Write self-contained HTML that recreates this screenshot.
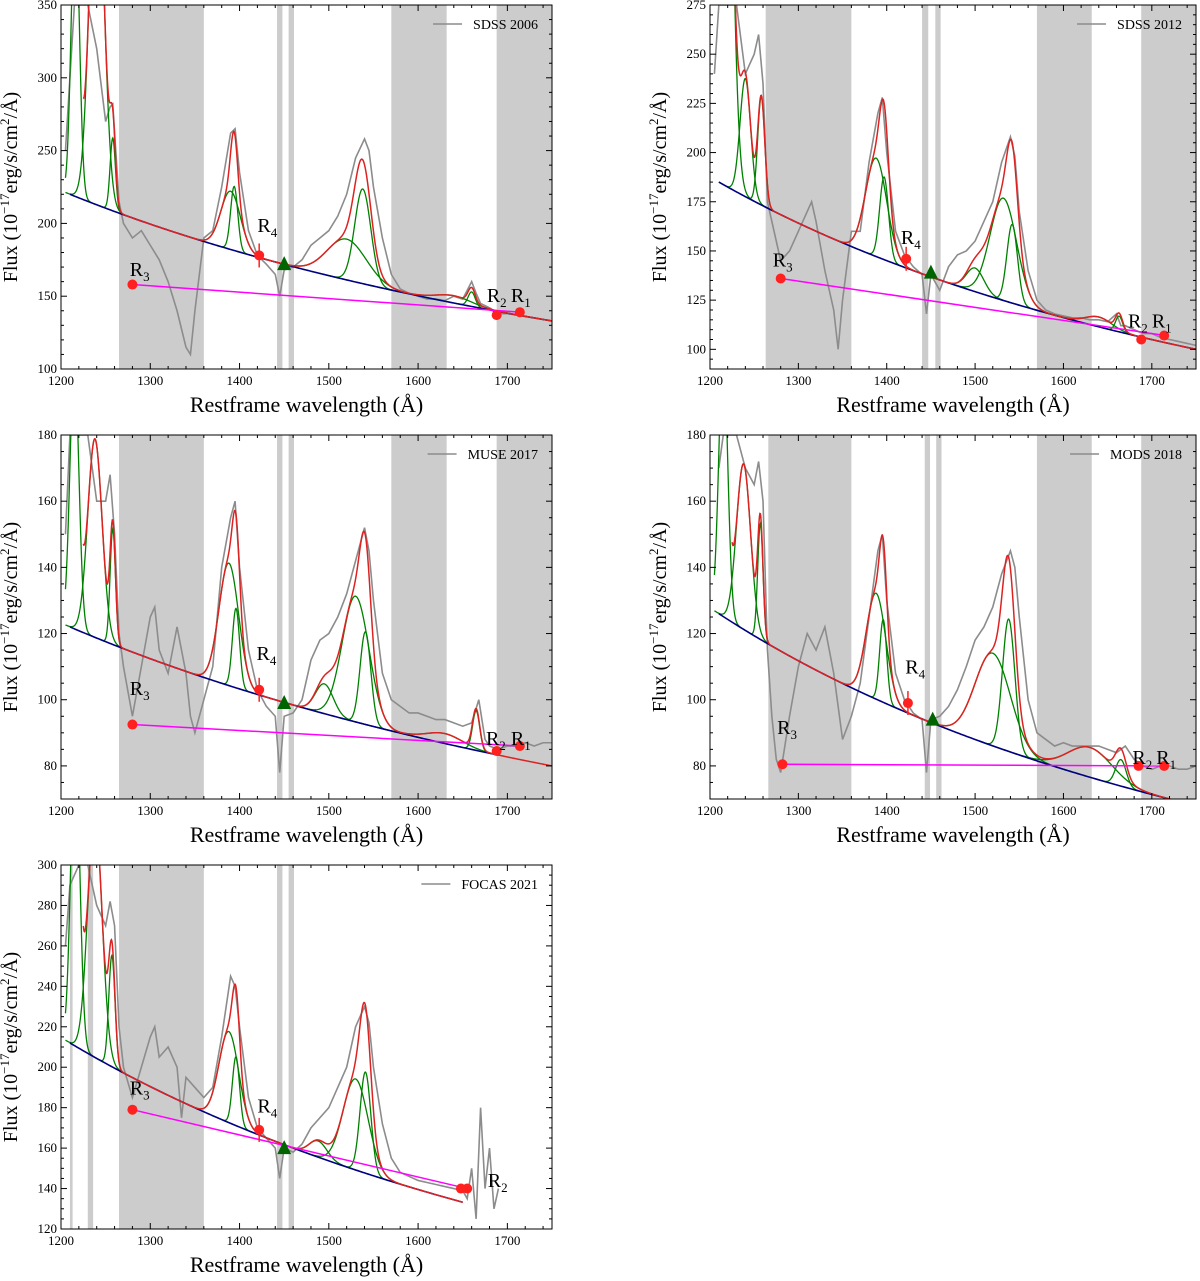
<!DOCTYPE html>
<html><head><meta charset="utf-8"><style>
html,body{margin:0;padding:0;background:#fff;}
svg{display:block;font-family:"Liberation Serif",serif;}
</style></head><body>
<svg id="fig" width="1200" height="1281" viewBox="0 0 1200 1281"></svg>
<script>
// ---- Panel data (small named arrays) ----
const p1Label="SDSS 2006", p2Label="SDSS 2012", p3Label="MUSE 2017", p4Label="MODS 2018", p5Label="FOCAS 2021";
const p1Wave=[1205,1210,1215,1220,1230,1240,1250,1255,1258,1265,1270,1280,1290,1300,1310,1320,1330,1340,1345,1350,1360,1370,1380,1390,1395,1400,1410,1420,1430,1440,1445,1450,1460,1470,1480,1490,1500,1510,1520,1530,1540,1545,1550,1560,1570,1580,1590,1600,1610,1620,1630,1640,1650,1660,1665,1670,1680,1690,1700,1710,1720,1730,1740,1750];
const p1Flux=[250,300,350,350,350,320,270,280,282,215,200,190,195,185,175,160,140,115,110,140,190,195,225,262,265,235,195,178,172,165,150,168,170,175,185,190,195,205,220,245,258,250,225,190,165,155,152,150,148,148,147,150,148,160,152,145,142,138,138,137,136,135,134,133];
const p2Wave=[1205,1210,1220,1230,1240,1250,1255,1260,1265,1270,1280,1290,1300,1310,1315,1320,1330,1340,1345,1350,1360,1370,1380,1390,1395,1400,1410,1420,1430,1440,1445,1450,1460,1470,1480,1490,1500,1510,1520,1530,1540,1545,1550,1560,1570,1580,1590,1600,1610,1620,1630,1640,1650,1660,1665,1670,1680,1690,1700,1710,1720,1730,1740,1750];
const p2Flux=[240,275,275,275,240,250,260,235,175,165,145,150,160,170,175,165,140,120,100,125,160,160,195,220,228,200,160,148,142,138,118,138,130,142,148,150,155,165,175,195,208,198,170,140,125,120,118,117,116,116,115,115,114,118,112,112,110,108,108,106,105,104,103,102];
const p3Wave=[1205,1210,1220,1230,1240,1250,1255,1260,1265,1270,1280,1290,1300,1305,1310,1320,1330,1340,1345,1350,1360,1370,1380,1390,1395,1400,1410,1420,1430,1440,1445,1450,1460,1470,1480,1490,1500,1510,1520,1530,1540,1545,1550,1560,1570,1580,1590,1600,1610,1620,1630,1640,1650,1660,1668,1675,1680,1690,1700,1710,1720,1730,1740,1750];
const p3Flux=[150,180,180,180,160,160,168,150,120,110,95,110,125,128,115,108,122,108,95,90,100,110,140,155,160,140,115,103,98,95,78,95,96,100,112,118,120,125,132,142,152,145,130,108,100,98,96,96,95,94,94,93,92,93,100,88,86,85,86,86,87,86,87,87];
const p4Wave=[1210,1215,1220,1230,1240,1250,1255,1260,1265,1270,1275,1280,1290,1300,1310,1320,1330,1340,1350,1360,1370,1380,1390,1395,1400,1410,1420,1430,1440,1445,1450,1460,1470,1480,1490,1500,1510,1520,1530,1540,1545,1550,1560,1570,1580,1590,1600,1610,1620,1630,1640,1650,1660,1670,1680,1690,1700,1710,1720,1730,1740,1750];
const p4Flux=[170,180,180,180,170,165,172,160,115,95,82,78,95,110,120,115,122,108,88,95,105,125,145,150,130,108,100,96,94,78,94,95,98,103,110,118,122,128,138,145,140,125,100,90,88,86,87,86,86,86,86,85,84,86,82,80,79,80,80,79,79,80];
const p5Wave=[1205,1210,1220,1230,1240,1250,1255,1260,1265,1270,1280,1290,1300,1305,1310,1320,1330,1335,1340,1350,1360,1370,1380,1390,1395,1400,1410,1420,1430,1440,1445,1450,1460,1470,1480,1490,1500,1510,1520,1530,1540,1545,1550,1560,1570,1580,1590,1600,1610,1620,1630,1640,1650,1655,1660,1665,1670,1675,1680,1685,1690];
const p5Flux=[260,290,300,300,280,270,282,270,220,200,185,200,215,220,205,210,200,175,195,190,185,190,215,245,240,220,185,170,165,160,145,160,158,162,170,175,180,190,200,220,230,222,200,172,155,148,146,144,143,142,141,140,139,135,150,125,180,140,160,130,140];
// gaussian components: centers, amplitudes, widths
const p1Cen=[1216,1240,1258,1390,1394,1520,1538,1640,1660], p1Amp=[200,250,50,40,44,28,65,5,10], p1Sig=[4.5,8,3,11,4,22,9,20,4];
const p2Cen=[1216,1240,1258,1388,1397,1500,1532,1542,1640,1663], p2Amp=[300,60,55,50,42,12,52,40,5,8], p2Sig=[8,6,4,12,5,10,15,6,15,4];
const p3Cen=[1215,1238,1258,1388,1396,1495,1530,1541,1630,1665], p3Amp=[80,60,35,37,24,9,38,28,3,12], p3Sig=[5,8,3,11,4,10,15,6,20,4];
const p4Cen=[1215,1238,1257,1388,1396,1520,1538,1630,1665], p4Amp=[80,50,35,32,25,28,40,9,8], p4Sig=[5,8,3,11,4,20,7,25,6];
const p5Cen=[1216,1238,1257,1388,1396,1488,1530,1541], p5Amp=[150,120,55,45,34,8,45,50], p5Sig=[5,8,3.5,11,4,10,14,6];
// continuum anchors (flux at 1210 and at 1750)
const p1Cont=[220,133], p2Cont=[185,100], p3Cont=[122,80], p4Cont=[126,68], p5Cont=[212,122];
// magenta line endpoints [wave, flux]
const p1Mag=[[1280,158],[1715,139]], p2Mag=[[1280,136],[1715,107]], p3Mag=[[1280,92.5],[1715,86]], p4Mag=[[1282,80.5],[1715,80]], p5Mag=[[1280,179],[1655,140]];
// red points
const p1Pts=[[1280,158],[1422,178],[1688,137],[1714,139]];
const p2Pts=[[1280,136],[1422,146],[1688,105],[1714,107]];
const p3Pts=[[1280,92.5],[1422,103],[1688,84.5],[1714,86]];
const p4Pts=[[1282,80.5],[1424,99],[1685,80],[1714,80]];
const p5Pts=[[1280,179],[1422,169],[1648,140],[1655,140]];
const p1Tri=[1450,172], p2Tri=[1450,139], p3Tri=[1450,99], p4Tri=[1452,94], p5Tri=[1450,160];
// point labels: [text, sub, wave, flux]
const p1Lab=[["R","3",1277,164],["R","4",1420,194],["R","2",1677,146],["R","1",1704,146]];
const p2Lab=[["R","3",1271,142],["R","4",1416,153.6],["R","2",1673,111],["R","1",1700,111]];
const p3Lab=[["R","3",1277,101.4],["R","4",1419,112],["R","2",1676,86.3],["R","1",1704,86.3]];
const p4Lab=[["R","3",1276,89.6],["R","4",1421,108],["R","2",1678,80.6],["R","1",1705,80.6]];
const p5Lab=[["R","3",1277,186.6],["R","4",1420,177.7],["R","2",1678,140.7]];
// masked bands
const p1Bands=[[1265,1360],[1442,1448],[1455,1461],[1570,1632],[1688,1750]];
const p2Bands=[[1263,1360],[1440,1447],[1455,1461],[1570,1632],[1688,1750]];
const p3Bands=[[1265,1360],[1442,1448],[1455,1461],[1570,1632],[1688,1750]];
const p4Bands=[[1266,1360],[1443,1449],[1456,1462],[1570,1632],[1688,1750]];
const p5Bands=[[1210,1213],[1230,1236],[1265,1360],[1442,1448],[1455,1461]];
const p1YTicks=[100,150,200,250,300,350], p2YTicks=[100,125,150,175,200,225,250,275];
const p3YTicks=[80,100,120,140,160,180], p4YTicks=[80,100,120,140,160,180];
const p5YTicks=[120,140,160,180,200,220,240,260,280,300];
const xTicks=[1200,1300,1400,1500,1600,1700];

const panels=[
 {id:"p1",L:61,R:552,T:5,B:369,ymin:100,ymax:350,minor:10,label:p1Label,w:p1Wave,f:p1Flux,cen:p1Cen,amp:p1Amp,sig:p1Sig,cont:p1Cont,contEnd:1750,redEnd:1750,mag:p1Mag,pts:p1Pts,tri:p1Tri,lab:p1Lab,bands:p1Bands,yt:p1YTicks},
 {id:"p2",L:710,R:1196,T:5,B:369,ymin:90,ymax:275,minor:5,label:p2Label,w:p2Wave,f:p2Flux,cen:p2Cen,amp:p2Amp,sig:p2Sig,cont:p2Cont,contEnd:1750,redEnd:1750,mag:p2Mag,pts:p2Pts,tri:p2Tri,lab:p2Lab,bands:p2Bands,yt:p2YTicks},
 {id:"p3",L:61,R:552,T:435,B:799,ymin:70,ymax:180,minor:5,label:p3Label,w:p3Wave,f:p3Flux,cen:p3Cen,amp:p3Amp,sig:p3Sig,cont:p3Cont,contEnd:1690,redEnd:1750,mag:p3Mag,pts:p3Pts,tri:p3Tri,lab:p3Lab,bands:p3Bands,yt:p3YTicks},
 {id:"p4",L:710,R:1196,T:435,B:799,ymin:70,ymax:180,minor:5,label:p4Label,w:p4Wave,f:p4Flux,cen:p4Cen,amp:p4Amp,sig:p4Sig,cont:p4Cont,contEnd:1750,redEnd:1750,mag:p4Mag,pts:p4Pts,tri:p4Tri,lab:p4Lab,bands:p4Bands,yt:p4YTicks},
 {id:"p5",L:61,R:552,T:865,B:1229,ymin:120,ymax:300,minor:5,label:p5Label,w:p5Wave,f:p5Flux,cen:p5Cen,amp:p5Amp,sig:p5Sig,cont:p5Cont,contEnd:1650,redEnd:1650,mag:p5Mag,pts:p5Pts,tri:p5Tri,lab:p5Lab,bands:p5Bands,yt:p5YTicks}
];
const NS="http://www.w3.org/2000/svg";
const svg=document.getElementById("fig");
function mk(tag,attrs,parent){const e=document.createElementNS(NS,tag);for(const k in attrs)e.setAttribute(k,attrs[k]);(parent||svg).appendChild(e);return e;}
const defs=mk("defs",{});
panels.forEach(P=>{
 const xs=w=>P.L+(w-1200)/(1750-1200)*(P.R-P.L);
 const ys=v=>P.B-(v-P.ymin)/(P.ymax-P.ymin)*(P.B-P.T);
 const alpha=Math.log(P.cont[1]/P.cont[0])/Math.log(1750/1210);
 const cont=w=>P.cont[0]*Math.pow(w/1210,alpha);
 const gaus=(i,w)=>P.amp[i]*Math.exp(-0.5*Math.pow((w-P.cen[i])/P.sig[i],2));
 const cp=mk("clipPath",{id:"clip-"+P.id},defs);
 mk("rect",{x:P.L,y:P.T,width:P.R-P.L,height:P.B-P.T},cp);
 const g=mk("g",{});
 
 
 const pg=mk("g",{"clip-path":"url(#clip-"+P.id+")"},g);
 P.bands.forEach(b=>{const r=mk("rect",{x:xs(b[0]),y:P.T,width:xs(b[1])-xs(b[0]),height:P.B-P.T,fill:"#cccccc"},pg);
  
  });
 const sp=mk("polyline",{points:P.w.map((w,i)=>xs(w)+","+ys(P.f[i])).join(" "),fill:"none",stroke:"#8c8c8c","stroke-width":1.6},pg);
 
 
 P.cen.forEach((c,i)=>{const pts=[];const a=Math.max(1205,c-5*P.sig[i]),b=Math.min(P.contEnd,c+5*P.sig[i]);
  for(let w=a;w<=b;w+=0.5)pts.push(xs(w)+","+ys(cont(w)+gaus(i,w)));
  const l=mk("polyline",{points:pts.join(" "),fill:"none",stroke:"#008000","stroke-width":1.3},pg);
  
  });
 let pts=[];for(let w=1210;w<=P.contEnd;w+=2)pts.push(xs(w)+","+ys(cont(w)));
 const bl=mk("polyline",{points:pts.join(" "),fill:"none",stroke:"#000080","stroke-width":1.6},pg);
 
 
 pts=[];for(let w=1225;w<=P.redEnd;w+=0.5){let s=cont(w);P.cen.forEach((c,i)=>s+=gaus(i,w));pts.push(xs(w)+","+ys(s));}
 const rl=mk("polyline",{points:pts.join(" "),fill:"none",stroke:"#dd2222","stroke-width":1.5},pg);
 
 
 const ml=mk("line",{x1:xs(P.mag[0][0]),y1:ys(P.mag[0][1]),x2:xs(P.mag[1][0]),y2:ys(P.mag[1][1]),stroke:"#ff00ff","stroke-width":1.5},pg);
 
 
 P.pts.forEach((p,i)=>{ if(i===1){mk("line",{x1:xs(p[0]),x2:xs(p[0]),y1:ys(p[1])-12,y2:ys(p[1])+12,stroke:"#ff2020","stroke-width":1.5},pg);}
  const c=mk("circle",{cx:xs(p[0]),cy:ys(p[1]),r:5,fill:"#ff2020"},pg);
  
  });
 const tx=xs(P.tri[0]),ty=ys(P.tri[1]);
 const tr=mk("polygon",{points:`${tx-7},${ty+6} ${tx+7},${ty+6} ${tx},${ty-8}`,fill:"#006400"},pg);
 
 
 P.lab.forEach(l=>{const t=mk("text",{x:xs(l[2]),y:ys(l[3]),"font-size":20,fill:"#000"},g);
  t.textContent=l[0];const s=mk("tspan",{"font-size":13,dy:5},t);s.textContent=l[1];
  
  });
 const fr=mk("rect",{x:P.L,y:P.T,width:P.R-P.L,height:P.B-P.T,fill:"none",stroke:"#000","stroke-width":1},g);
 
 
 for(let w=1200;w<=1750;w+=20){const x=xs(w);const maj=(w%100===0);const len=maj?6:3;
  mk("line",{x1:x,x2:x,y1:P.B,y2:P.B-len,stroke:"#000"},g);mk("line",{x1:x,x2:x,y1:P.T,y2:P.T+len,stroke:"#000"},g);}
 xTicks.forEach(w=>{const t=mk("text",{x:xs(w),y:P.B+16,"font-size":13,"text-anchor":"middle"},g);t.textContent=w;
  
  });
 for(let v=Math.ceil(P.ymin/P.minor)*P.minor;v<=P.ymax;v+=P.minor){const y=ys(v);const maj=P.yt.includes(v);const len=maj?6:3;
  mk("line",{x1:P.L,x2:P.L+len,y1:y,y2:y,stroke:"#000"},g);mk("line",{x1:P.R,x2:P.R-len,y1:y,y2:y,stroke:"#000"},g);}
 P.yt.forEach(v=>{const t=mk("text",{x:P.L-4,y:ys(v)+4,"font-size":13,"text-anchor":"end"},g);t.textContent=v;
  
  });
 const xl=mk("text",{x:(P.L+P.R)/2,y:P.B+43,"font-size":22,"text-anchor":"middle"},g);
 xl.textContent="Restframe wavelength (Å)";
 
 
 const cy=(P.T+P.B)/2, cx=P.L-44;
 const yl=mk("text",{x:cx,y:cy,"font-size":20,"text-anchor":"middle",transform:`rotate(-90 ${cx} ${cy})`},g);
 yl.innerHTML='Flux (10<tspan font-size="13" dy="-8">−17</tspan><tspan dy="8">erg/s/cm</tspan><tspan font-size="13" dy="-8">2</tspan><tspan dy="8">/Å)</tspan>';
 
 
 const lg=mk("text",{x:P.R-14,y:P.T+24,"font-size":14,"text-anchor":"end"},g);
 lg.textContent=P.label;
 
 
 const tl=lg.getComputedTextLength();
 const ll=mk("line",{x1:P.R-14-tl-40,x2:P.R-14-tl-11,y1:P.T+19,y2:P.T+19,stroke:"#8c8c8c","stroke-width":1.6},g);
 
 
});
</script>
</body></html>
